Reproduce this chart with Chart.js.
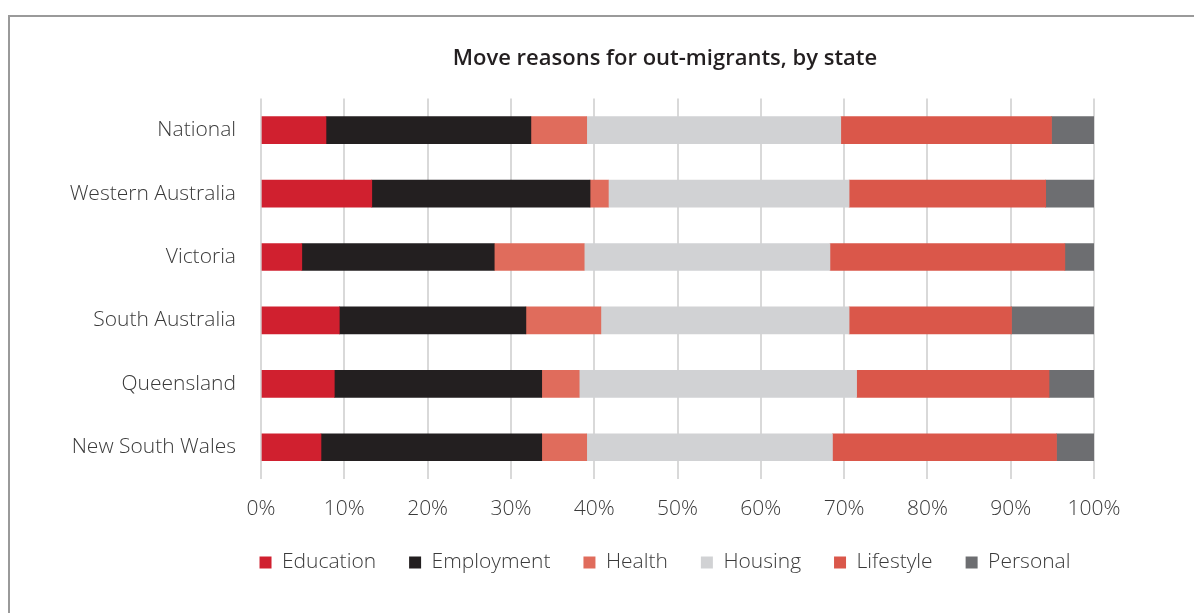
<!DOCTYPE html>
<html>
<head>
<meta charset="utf-8">
<script src="https://cdn.jsdelivr.net/npm/chart.js@4.4.1/dist/chart.umd.min.js"></script>
<style>
  html, body { margin: 0; padding: 0; background: #fff; }
  body { width: 1194px; height: 613px; position: relative; overflow: hidden; }
  .frame { position: absolute; left: 8px; top: 15px; width: 1200px; height: 640px; border: 2px solid #9a9a9a; box-sizing: border-box; }
  .wrap { position: absolute; left: 0; top: 0; width: 1330px; height: 613px; }
</style>
</head>
<body>
<div class="frame"></div>
<div class="wrap"><canvas id="moveChart"></canvas></div>
<script>
// Data (shares of out-migrants, %)
const states = ['National', 'Western Australia', 'Victoria', 'South Australia', 'Queensland', 'New South Wales'];
const education  = [7.8, 13.3, 4.9, 9.4, 8.8, 7.2];
const employment = [24.6, 26.2, 23.1, 22.4, 24.9, 26.5];
const health     = [6.7, 2.2, 10.8, 9.0, 4.5, 5.4];
const housing    = [30.5, 28.9, 29.5, 29.8, 33.3, 29.5];
const lifestyle  = [25.3, 23.6, 28.2, 19.5, 23.1, 26.9];
const personal   = [5.1, 5.8, 3.5, 9.9, 5.4, 4.5];
const xTicks = [0, 10, 20, 30, 40, 50, 60, 70, 80, 90, 100];

const fontFamily = "'Open Sans', Roboto, 'Liberation Sans', sans-serif";

function series(label, data, color) {
    return { label: label, data: data, backgroundColor: color, borderWidth: 0, barThickness: 27 };
}

const ctx = document.getElementById('moveChart').getContext('2d');
const moveChart = new Chart(ctx, {
    type: 'bar',
    data: {
        labels: states,
        datasets: [
            series('Education', education, '#D0202F'),
            series('Employment', employment, '#231F20'),
            series('Health', health, '#E06C5C'),
            series('Housing', housing, '#D1D2D4'),
            series('Lifestyle', lifestyle, '#DA574A'),
            series('Personal', personal, '#6D6E71')
        ]
    },
    options: {
        indexAxis: 'y',
        responsive: true,
        maintainAspectRatio: false,
        animation: false,
        layout: { padding: { left: 0, right: 0, top: 0, bottom: 30 } },
        scales: {
            x: {
                stacked: true,
                min: 0,
                max: 100,
                afterBuildTicks: function (scale) {
                    scale.ticks = xTicks.map(function (v) { return { value: v }; });
                },
                afterFit: function (scale) { scale.height = 40; },
                grid: { color: '#d9d9d9', lineWidth: 2, drawTicks: false },
                border: { display: false },
                ticks: {
                    padding: 17,
                    color: '#3a3a3a',
                    font: { family: fontFamily, size: 21, weight: 300 },
                    callback: function (v) { return v + '%'; }
                }
            },
            y: {
                stacked: true,
                afterFit: function (scale) { scale.width = 261; },
                grid: { display: false, drawTicks: false },
                border: { display: false },
                ticks: {
                    padding: 25,
                    color: '#3a3a3a',
                    font: { family: fontFamily, size: 21, weight: 300 }
                }
            },
            // empty right-hand spacer so the title and legend centre where the original has them
            spacer: {
                type: 'linear',
                position: 'right',
                axis: 'y',
                afterFit: function (scale) { scale.width = 236; },
                grid: { display: false, drawTicks: false },
                border: { display: false },
                ticks: { display: false }
            }
        },
        plugins: {
            title: {
                display: true,
                text: 'Move reasons for out-migrants, by state',
                color: '#231F20',
                font: { family: fontFamily, size: 22, weight: 600 },
                padding: { top: 46, bottom: 26 }
            },
            legend: {
                position: 'bottom',
                labels: {
                    boxWidth: 12,
                    boxHeight: 12,
                    padding: 33,
                    color: '#3a3a3a',
                    font: { family: fontFamily, size: 21, weight: 300 }
                }
            },
            tooltip: { enabled: false }
        }
    }
});
</script>
</body>
</html>
